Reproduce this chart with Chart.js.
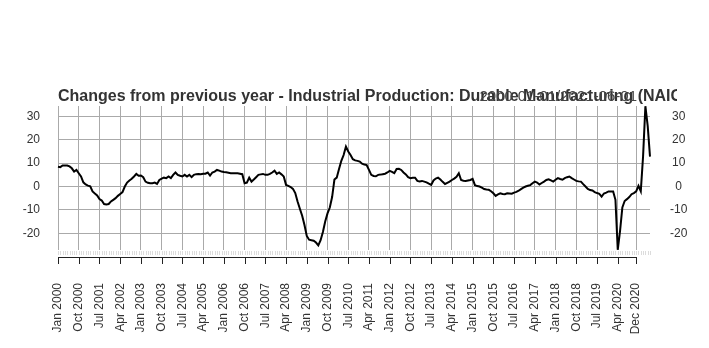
<!DOCTYPE html>
<html><head><meta charset="utf-8">
<script src="https://cdn.jsdelivr.net/npm/chart.js@4"></script>
<style>html,body{margin:0;padding:0;background:#fff;} canvas{display:block;}</style>
</head><body>
<canvas id="c" width="709" height="348"></canvas>
<script>
const titleText = "Changes from previous year - Industrial Production: Durable Manufacturing (NAICS = 33)";
const rangeText = "2000-01-01/2021-06-01";
const monthNames = ["Jan","Feb","Mar","Apr","May","Jun","Jul","Aug","Sep","Oct","Nov","Dec"];
const startYear = 2000;

const values = [
  8.5, 8.3, 9.0, 9.0, 9.0, 8.6, 7.8, 6.4, 7.1, 5.7, 4.3, 1.8,
  0.9, 0.4, 0.1, -2.1, -3.0, -3.8, -5.4, -6.0, -7.5, -7.7, -7.5, -6.4,
  -5.7, -5.0, -4.0, -3.2, -2.4, 0.0, 1.7, 2.6, 3.3, 4.3, 5.4, 4.6,
  4.7, 4.0, 2.1, 1.6, 1.4, 1.4, 1.7, 1.1, 2.8, 3.4, 3.8, 3.6,
  4.3, 3.6, 5.0, 6.0, 5.0, 4.6, 4.3, 5.0, 4.3, 5.0, 4.0, 5.0,
  5.3, 5.4, 5.3, 5.5, 5.5, 6.0, 4.7, 6.0, 6.4, 7.1, 6.8, 6.4,
  6.2, 6.1, 5.9, 5.7, 5.7, 5.7, 5.7, 5.5, 5.3, 1.4, 1.7, 3.8,
  2.1, 3.0, 4.0, 5.0, 5.2, 5.4, 5.0, 5.0, 5.4, 6.0, 6.8, 5.4,
  6.0, 5.2, 4.3, 0.7, 0.3, -0.2, -1.0, -2.8, -6.4, -9.5, -12.5, -16.5,
  -21.2, -22.8, -23.0, -23.2, -24.0, -25.2, -23.0, -19.5, -15.0, -11.5, -9.0, -4.5,
  3.0, 3.8, 7.5, 11.0, 13.5, 17.1, 15.0, 13.5, 11.7, 11.2, 11.0, 10.7,
  9.8, 9.4, 9.2, 7.1, 5.0, 4.5, 4.4, 5.0, 5.1, 5.3, 5.5, 6.0,
  6.7, 6.3, 5.7, 7.5, 7.6, 7.1, 6.0, 5.2, 4.0, 3.6, 3.8, 3.8,
  2.4, 2.2, 2.4, 2.1, 1.8, 1.2, 0.7, 2.6, 3.4, 3.8, 3.0, 2.0,
  1.1, 1.6, 2.1, 2.8, 3.4, 4.2, 5.7, 2.8, 2.5, 2.4, 2.6, 2.8,
  3.3, 0.6, 0.2, 0.0, -0.5, -1.1, -1.3, -1.4, -2.0, -2.9, -4.0, -3.4,
  -2.9, -3.2, -3.3, -2.9, -3.0, -3.1, -2.6, -2.3, -1.8, -1.1, -0.5, 0.0,
  0.3, 0.6, 1.4, 2.1, 1.7, 0.9, 1.5, 2.1, 2.8, 3.1, 2.6, 2.1,
  2.9, 3.6, 3.2, 2.9, 3.6, 4.0, 4.3, 3.6, 3.0, 2.4, 2.2, 2.1,
  1.0, 0.0, -1.0, -1.5, -1.7, -2.4, -2.8, -3.1, -4.3, -3.0, -2.6, -2.1,
  -2.1, -2.1, -5.7, -27.1, -19.0, -9.0, -6.2, -5.4, -4.5, -3.3, -2.8, -2.1,
  0.3, -2.0, 13.0, 34.4, 26.0, 12.8
];

const categories = values.map((_, i) => monthNames[i % 12] + " " + (startYear + Math.floor(i / 12)));

const tickLabels = ["Jan 2000","Oct 2000","Jul 2001","Apr 2002","Jan 2003","Oct 2003","Jul 2004",
  "Apr 2005","Jan 2006","Oct 2006","Jul 2007","Apr 2008","Jan 2009","Oct 2009","Jul 2010",
  "Apr 2011","Jan 2012","Oct 2012","Jul 2013","Apr 2014","Jan 2015","Oct 2015","Jul 2016",
  "Apr 2017","Jan 2018","Oct 2018","Jul 2019","Apr 2020","Dec 2020"];
const yTicks = [-20, -10, 0, 10, 20, 30];
const yMin = -27.2, yMax = 34.5;

const tickSet = new Set(tickLabels);
const FONT = '"Liberation Sans", Arial, sans-serif';

const deco = {
  id: 'deco',
  afterDraw(chart) {
    const ctx = chart.ctx, xs = chart.scales.x, a = chart.chartArea;
    ctx.save();
    ctx.lineWidth = 1;
    ctx.strokeStyle = '#dcdcdc';
    ctx.beginPath();
    for (let i = 0; i < categories.length; i++) {
      const px = Math.round(xs.getPixelForValue(i)) + 0.5;
      ctx.moveTo(px, a.bottom + 1); ctx.lineTo(px, a.bottom + 5);
    }
    ctx.stroke();
    const majors = [];
    categories.forEach((c, i) => { if (tickSet.has(c)) majors.push(i); });
    const first = Math.round(xs.getPixelForValue(majors[0])) + 0.5;
    const last = Math.round(xs.getPixelForValue(majors[majors.length - 1])) + 0.5;
    ctx.strokeStyle = '#222';
    ctx.beginPath();
    ctx.moveTo(first, a.bottom + 7.5); ctx.lineTo(last, a.bottom + 7.5);
    majors.forEach(i => {
      const px = Math.round(xs.getPixelForValue(i)) + 0.5;
      ctx.moveTo(px, a.bottom + 7); ctx.lineTo(px, a.bottom + 14);
    });
    ctx.stroke();
    ctx.beginPath(); ctx.rect(0, 0, 677, chart.height); ctx.clip();
    ctx.textBaseline = 'alphabetic';
    ctx.textAlign = 'left';
    ctx.fillStyle = '#333';
    ctx.font = 'bold 16px ' + FONT;
    ctx.fillText(titleText, a.left, a.top - 5);
    ctx.textAlign = 'right';
    ctx.fillStyle = '#444';
    ctx.font = '15px ' + FONT;
    ctx.fillText(rangeText, 637, a.top - 5);
    ctx.restore();
  }
};

new Chart(document.getElementById('c'), {
  type: 'line',
  data: {
    labels: categories,
    datasets: [{
      data: values,
      borderColor: '#000',
      borderWidth: 2,
      pointRadius: 0,
      fill: false,
      tension: 0
    }]
  },
  options: {
    responsive: false,
    animation: false,
    events: [],
    layout: { padding: { top: 106, left: 0, right: 0, bottom: 0 } },
    plugins: { legend: { display: false }, tooltip: { enabled: false }, title: { display: false } },
    scales: {
      x: {
        type: 'category',
        offset: false,
        border: { display: false },
        grid: {
          drawTicks: false,
          lineWidth: 1,
          color: (c) => (c.tick && tickSet.has(categories[c.index])) ? '#aaaaaa' : 'rgba(0,0,0,0)'
        },
        ticks: {
          autoSkip: false,
          maxRotation: 90,
          minRotation: 90,
          padding: 33,
          color: '#333',
          font: { family: FONT, size: 12 },
          callback: function (v, i) { const l = categories[i]; return tickSet.has(l) ? l : ''; }
        },
        afterFit: (s) => { s.height = 98; }
      },
      y: {
        position: 'left',
        min: yMin, max: yMax,
        afterBuildTicks: (s) => { s.ticks = yTicks.map(v => ({ value: v })); },
        afterFit: (s) => { s.width = 58; },
        border: { display: false },
        grid: { color: '#aaaaaa', lineWidth: 1, drawTicks: false },
        ticks: { padding: 18, color: '#333', font: { family: FONT, size: 12 } }
      },
      y2: {
        position: 'right',
        min: yMin, max: yMax,
        afterBuildTicks: (s) => { s.ticks = yTicks.map(v => ({ value: v })); },
        afterFit: (s) => { s.width = 59; },
        border: { display: false },
        grid: { display: false, drawTicks: false },
        ticks: { padding: 20, crossAlign: 'center', color: '#333', font: { family: FONT, size: 12 } }
      }
    }
  },
  plugins: [deco]
});
</script>
</body></html>
